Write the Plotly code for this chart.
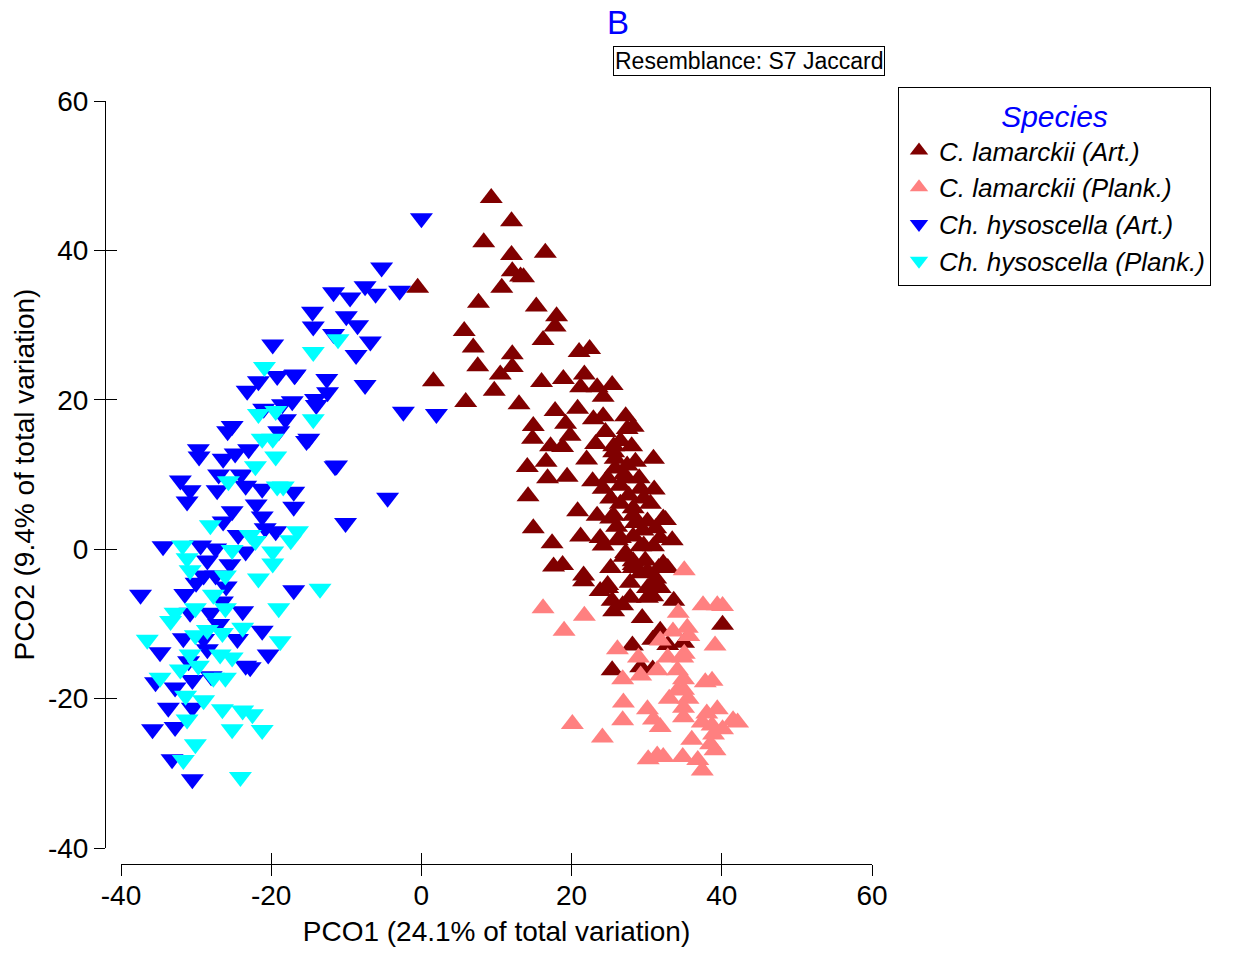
import plotly.graph_objects as go

# PCO scores per group (PCO1, PCO2)
lam_art_x = [9.3, 12.0, 8.3, 16.5, 12.0, 12.1, 13.6, 13.2, -0.5, 10.7, 7.6, 15.3, 18.0, 17.8, 5.7,
             16.2, 6.9, 12.1, 21.0, 22.4, 7.5, 12.1, 10.5, 9.7, 16.0, 18.9, 21.7, 21.2, 23.4, 1.6,
             5.9, 13.0, 17.8, 20.8, 25.4, 24.2, 22.9, 24.2, 27.2, 19.2, 27.4, 14.9, 19.8, 14.8, 17.2,
             18.8, 23.2, 25.6, 28.0, 30.9, 25.8, 28.5, 14.1, 16.6, 16.8, 19.4, 22.8, 24.8, 26.5, 24.2,
             25.2, 27.6, 29.6, 14.2, 20.8, 23.4, 25.6, 28.2, 30.1, 32.5, 14.9, 21.2, 23.8, 26.1, 28.2,
             31.8, 33.4, 17.4, 24.2, 29.2, 30.9, 17.6, 18.8, 28.2, 29.8, 32.2, 21.6, 28.2, 24.5, 25.6,
             27.4, 32.2, 28.2, 25.2, 26.5, 29.6, 31.6, 28.2, 24.8, 30.1, 21.6, 23.8, 24.8, 25.4, 26.8,
             25.6, 28.2, 30.1, 27.8, 30.9, 30.1, 32.8, 33.6, 29.4, 31.8, 30.8, 40.1, 28.1, 32.8, 34.9,
             25.4, 30.8, 29.2, 27.0, 29.0, 26.0, 27.0, 29.5, 31.0, 26.5, 22.0, 31.2, 30.8,
             25.8, 27.2, 29.2, 30.5, 26.5, 28.5, 31.2, 27.2, 25.2, 29.2, 31.8, 27.8]
lam_art_y = [47.0, 43.9, 41.1, 39.7, 39.4, 37.2, 36.4, 36.5, 35.0, 35.0, 33.0, 32.5, 31.2, 29.8, 29.2,
             28.0, 27.0, 26.1, 26.4, 26.8, 24.5, 24.4, 23.4, 21.2, 22.4, 22.8, 23.4, 21.7, 21.7, 22.5,
             19.7, 19.4, 18.5, 18.8, 22.0, 20.4, 17.4, 17.8, 17.8, 16.8, 16.1, 16.5, 15.2, 14.8, 13.8,
             13.7, 14.1, 13.8, 13.8, 12.1, 12.1, 11.7, 11.0, 11.7, 9.5, 9.7, 9.1, 9.5, 8.5, 8.1,
             6.8, 7.2, 6.8, 7.1, 5.1, 4.5, 4.5, 4.5, 3.7, 3.9, 2.8, 1.7, 1.5, 1.2, 1.7,
             1.5, 1.2, 0.8, 0.5, 0.4, 0.4, -2.3, -2.1, -1.6, -1.5, -1.9, -3.5, 16.4, 15.7, 13.0,
             11.2, 4.1, 5.5, 4.1, 1.5, 0.5, -2.5, -2.5, -4.8, -5.2, -4.3, -5.6, -5.2, -6.9, -7.5,
             -8.3, -2.1, -2.9, -4.5, -4.5, -6.5, -2.5, -6.9, -9.2, -10.9, -12.1, -10.1, -12.9, -12.8, -12.5,
             -16.2, -16.1, -15.8, 10.0, 9.5, 3.0, -1.0, 2.5, 8.0, 14.5, 12.0, -3.9, -6.3,
             10.8, 9.5, 8.1, 6.1, 6.1, 3.5, 2.8, -0.5, -2.5, -3.2, -5.2, -6.5]

lam_plank_x = [35.0, 16.2, 21.7, 19.0, 37.5, 39.4, 40.1, 34.2, 35.4, 35.6, 39.1, 26.1, 31.8, 28.9, 32.8,
               34.8, 31.4, 26.8, 29.2, 34.1, 34.9, 37.8, 38.7, 34.1, 34.9, 26.9, 30.1, 34.9, 39.4, 30.9,
               26.8, 31.8, 34.9, 37.4, 38.7, 40.1, 41.5, 20.1, 24.1, 30.2, 31.4, 32.2, 34.8, 36.8, 37.4,
               39.1, 38.5, 38.9, 42.1, 33.5, 35.5, 36.0, 33.0, 35.0, 38.0]
lam_plank_y = [-2.8, -7.9, -8.9, -10.9, -7.5, -7.5, -7.6, -8.5, -10.5, -11.6, -12.9, -13.4, -12.2, -14.5, -14.5,
               -14.5, -16.2, -17.4, -16.9, -16.2, -17.4, -17.8, -17.6, -18.9, -18.8, -20.5, -21.4, -21.2, -21.4, -22.8,
               -22.9, -23.8, -22.5, -23.2, -23.6, -24.1, -22.9, -23.4, -25.2, -28.1, -27.6, -27.8, -27.8, -28.2, -29.6,
               -26.9, -26.1, -24.8, -23.2, -11.0, -20.0, -25.5, -20.0, -14.0, -22.0]

hys_art_x = [0.0, -5.3, -7.5, -6.1, -2.9, -11.7, -9.5, -14.5, -10.0, -8.5, -14.4, -11.7, -6.8, -8.7, -16.8,
             -12.6, -7.5, -12.5, -14.1, -14.0, -17.2, -2.4, 2.0, -15.3, -11.3, -4.5, -10.1, -17.0, -17.0, -19.8,
             -19.2, -16.9, -21.7, -23.2, -18.5, -21.0, -18.1, -25.2, -25.8, -19.0, -15.0, -29.7, -29.6, -26.4, -24.8,
             -23.0, -11.5, -32.1, -30.8, -31.2, -27.2, -23.4, -21.2, -25.2, -21.2, -26.4, -24.4, -20.8, -19.4, -34.4,
             -29.4, -27.4, -23.4, -29.0, -27.4, -17.0, -37.4, -23.8, -34.8, -30.8, -28.1, -31.7, -21.2, -20.4, -28.5,
             -23.4, -22.8, -35.4, -32.8, -33.7, -35.8, -32.8, -33.2, -30.5, -30.5, -28.5, -26.0, -30.0, -29.0, -27.0,
             -31.0, -24.5, -25.5, -22.0, -27.0, -24.0, -28.0, -30.5, -31.5, -26.5]
hys_art_y = [44.3, 37.7, 35.2, 34.2, 34.6, 34.4, 33.7, 31.8, 31.2, 30.0, 29.8, 28.8, 27.8, 26.0, 23.4,
             22.8, 22.0, 21.0, 20.1, 19.3, 19.8, 18.4, 18.1, 14.5, 11.2, 6.9, 3.5, 7.7, 5.7, 27.4,
             23.2, 23.3, 22.5, 21.2, 19.4, 18.8, 17.4, 16.5, 15.8, 15.8, 14.8, 13.4, 12.4, 12.1, 12.8,
             13.4, 11.1, 9.2, 7.9, 6.4, 7.9, 8.5, 8.1, 5.1, 4.4, 3.7, 1.9, 2.8, 2.4, 0.4,
             0.5, 0.1, -0.3, -3.5, -3.5, -5.5, -6.1, -8.3, -13.8, -8.5, -8.5, -11.9, -10.9, -14.1, -13.4,
             -15.6, -15.8, -17.8, -18.5, -21.2, -24.1, -23.8, -28.1, -30.8, -21.2, -1.5, -5.0, -4.5, -12.0, -10.0,
             -15.0, -12.0, -2.0, 6.0, 10.0, 10.0, -17.0, -17.5, -6.0, -7.0]

hys_plank_x = [-11.1, -14.4, -14.4, -16.5, -13.5, -20.9, -19.4, -21.7, -21.2, -19.8, -19.4, -22.1, -25.7, -19.2, -18.4,
               -28.1, -22.8, -17.4, -31.8, -25.2, -22.1, -31.2, -19.8, -19.8, -30.8, -26.1, -21.7, -27.7, -26.1, -30.1,
               -32.8, -19.0, -36.5, -33.4, -30.1, -28.5, -26.5, -23.8, -18.8, -30.8, -26.8, -25.2, -34.8, -32.1, -29.7,
               -27.7, -26.1, -31.4, -29.0, -31.2, -26.5, -23.8, -22.5, -25.2, -21.2, -30.1, -31.7, -24.1]
hys_plank_y = [28.1, 26.4, 17.4, 2.4, -5.3, 24.4, 18.5, 18.1, 14.8, 14.8, 12.4, 11.1, 9.1, 8.4, 8.4,
               3.2, 1.9, 1.2, 0.5, -0.1, 1.1, -1.2, -0.3, -1.9, -2.8, -3.5, -3.9, -6.1, -7.9, -7.9,
               -8.5, -7.9, -12.1, -9.6, -11.5, -10.8, -11.2, -10.5, -12.3, -14.1, -14.1, -14.5, -17.2, -16.1, -15.6,
               -17.2, -17.2, -19.6, -20.2, -22.8, -21.4, -21.6, -22.1, -24.1, -24.2, -26.1, -28.2, -30.5]

groups = ["C. lamarckii (Art.)", "C. lamarckii (Plank.)", "Ch. hysoscella (Art.)", "Ch. hysoscella (Plank.)"]
group_x = [lam_art_x, lam_plank_x, hys_art_x, hys_plank_x]
group_y = [lam_art_y, lam_plank_y, hys_art_y, hys_plank_y]
group_colors = ["#800000", "#FF8080", "#0000FF", "#00FFFF"]
group_symbols = ["triangle-up", "triangle-up", "triangle-down", "triangle-down"]

axis_ticks = [-40, -20, 0, 20, 40, 60]
axis_tick_text = ["-40", "-20", "0", "20", "40", "60"]

FONT = "Liberation Sans, Arial, sans-serif"

fig = go.Figure()
for name, xs, ys, col, sym in zip(groups, group_x, group_y, group_colors, group_symbols):
    fig.add_trace(go.Scatter(
        x=xs, y=ys, mode="markers", name=name,
        marker=dict(symbol=sym, size=20, color=col, line=dict(width=0)),
    ))

# empty trace so the overlay axes (inner tick halves) get drawn
fig.add_trace(go.Scatter(x=[None], y=[None], xaxis="x2", yaxis="y2",
                         showlegend=False, hoverinfo="skip"))

dom = [16 / 767, 1]
common = dict(range=[-40, 60], tickvals=axis_ticks, ticktext=axis_tick_text,
              showgrid=False, zeroline=False,
              anchor="free", position=0, domain=dom, ticklen=11, tickwidth=1,
              tickcolor="black")

fig.update_layout(
    width=1244, height=953,
    margin=dict(l=105, r=372, t=101, b=85),
    paper_bgcolor="white", plot_bgcolor="white",
    font=dict(family=FONT, color="black"),
    xaxis=dict(**common, ticks="outside", showline=True, linecolor="black", linewidth=1,
               tickfont=dict(size=28, family=FONT), ticklabelstandoff=-5,
               title=dict(text="PCO1 (24.1% of total variation)", font=dict(size=28, family=FONT),
                          standoff=11)),
    yaxis=dict(**common, ticks="outside", showline=True, linecolor="black", linewidth=1,
               tickfont=dict(size=28, family=FONT),
               title=dict(text="PCO2 (9.4% of total variation)", font=dict(size=28, family=FONT),
                          standoff=4)),
    xaxis2=dict(**common, overlaying="x", ticks="inside",
                showline=False, showticklabels=False),
    yaxis2=dict(**common, overlaying="y", ticks="inside",
                showline=False, showticklabels=False),
    legend=dict(
        x=(898 - 105) / 767, y=(868 - 87) / 767, xanchor="left", yanchor="top",
        bordercolor="black", borderwidth=1, bgcolor="white",
        font=dict(size=26, family=FONT, style="italic", color="black"),
        title=dict(text="Species", side="top center",
                   font=dict(size=30, family=FONT, style="italic", color="#0000FF")),
        itemsizing="trace", tracegroupgap=0,
    ),
    annotations=[
        dict(text="B", xref="paper", yref="paper", x=(618 - 105) / 767, y=(868 - 22) / 767,
             xanchor="center", yanchor="middle", showarrow=False,
             font=dict(size=33, color="#0000FF", family=FONT)),
        dict(text="Resemblance: S7 Jaccard", xref="paper", yref="paper",
             x=(749 - 105) / 767, y=(868 - 61) / 767, xanchor="center", yanchor="middle",
             showarrow=False, font=dict(size=23, color="black", family=FONT),
             bordercolor="black", borderwidth=1, borderpad=1, bgcolor="white"),
    ],
)

fig.write_html("out.html")
